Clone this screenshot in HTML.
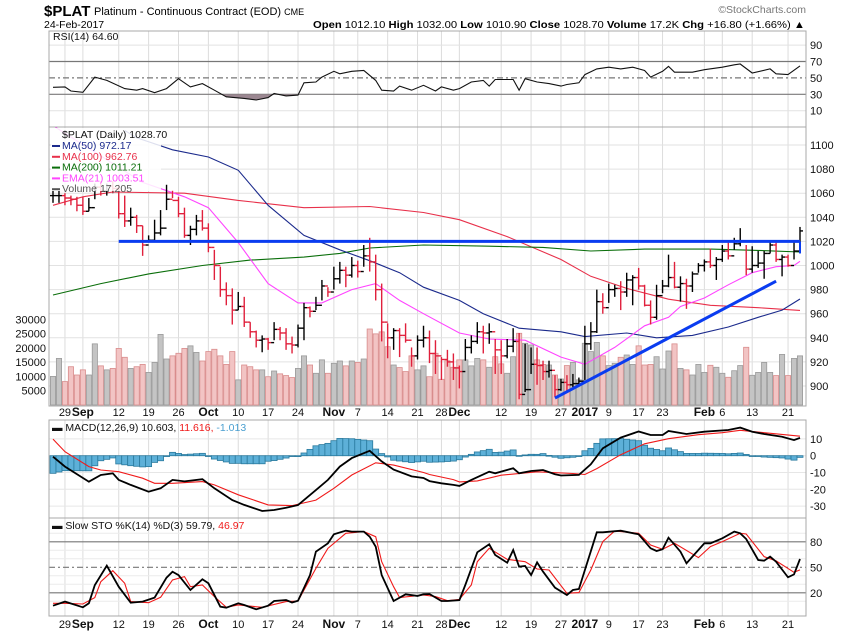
<!DOCTYPE html>
<html><head><meta charset="utf-8"><style>
html,body{margin:0;padding:0;background:#fff;}
svg{display:block;font-family:"Liberation Sans",sans-serif;}
</style></head><body>
<svg id="chart" width="850" height="633" viewBox="0 0 850 633" xmlns="http://www.w3.org/2000/svg">
<defs>
<clipPath id="cRsi"><rect x="49" y="31" width="757" height="96"/></clipPath>
<clipPath id="cPrice"><rect x="49" y="127" width="757" height="279"/></clipPath>
<clipPath id="cMacd"><rect x="49" y="420" width="757" height="98"/></clipPath>
<clipPath id="cSto"><rect x="49" y="518" width="757" height="98"/></clipPath>
<clipPath id="cRsiLow"><rect x="49" y="94.3" width="757" height="40"/></clipPath>
</defs>
<g>
<text x="44" y="16" font-size="15" font-weight="bold">$PLAT</text>
<text x="94" y="15" font-size="11">Platinum - Continuous Contract (EOD) <tspan font-size="9">CME</tspan></text>
<text x="44" y="28" font-size="10.5">24-Feb-2017</text>
<text x="806" y="13" font-size="10.5" fill="#777" text-anchor="end">©StockCharts.com</text>
<text x="313" y="28" font-size="10.5" textLength="492" lengthAdjust="spacingAndGlyphs"><tspan font-weight="bold">Open</tspan> 1012.10 <tspan font-weight="bold">High</tspan> 1032.00 <tspan font-weight="bold">Low</tspan> 1010.90 <tspan font-weight="bold">Close</tspan> 1028.70 <tspan font-weight="bold">Volume</tspan> 17.2K <tspan font-weight="bold">Chg</tspan> +16.80 (+1.66%) ▲</text>
</g>
<g id="grid"></g>
<g id="marks"></g>
<g id="frames"></g>
<g id="labels"></g>
</svg>
<script>
// ---------- data ----------
const highs=[1062,1062,1060,1058,1057,1057,1056,1068,1070,1068,1070,1067,1058,1048,1042,1033,1025,1038,1046,1067,1062,1057,1048,1033,1042,1046,1035,1013,999,986,981,978,974,953,946,942,940,953,949,948,941,951,969,966,974,988,982,999,1003,999,1007,1004,1017,1023,1009,985,952,948,948,952,932,942,950,946,938,924,930,927,917,939,942,953,950,952,939,938,939,948,944,935,932,932,921,921,909,906,909,910,907,950,953,980,977,985,984,987,994,992,998,984,971,984,988,1009,1003,991,989,995,1002,1005,1014,1007,1017,1019,1023,1031,1017,1016,1012,1012,1020,1019,1009,1009,1020,1032];
const lows=[1052,1052,1050,1050,1045,1042,1045,1055,1058,1058,1060,1039,1032,1033,1027,1008,1019,1021,1025,1046,1056,1040,1023,1017,1025,1029,1011,988,974,967,951,963,949,940,932,928,930,938,938,930,927,932,938,957,963,971,974,980,985,982,990,990,999,995,971,937,923,930,924,936,916,922,932,919,910,905,916,905,898,921,927,935,927,935,910,910,923,928,889,895,910,901,905,907,891,896,895,899,901,905,930,944,960,969,974,963,974,967,980,966,951,955,977,982,981,970,964,978,994,995,998,988,1003,1005,1013,1016,992,994,998,989,1010,1003,991,999,1005,1010.9];
const closes=[1058,1058,1056,1055,1050,1045,1048,1065,1062,1066,1064,1043,1037,1040,1033,1017,1021,1027,1031,1055,1054,1043,1025,1030,1037,1031,1015,1000,980,975,963,966,953,945,938,939,936,947,944,935,934,948,965,962,967,983,978,989,996,992,1000,995,1008,1003,980,953,940,946,942,938,925,938,940,927,925,922,920,915,912,932,937,945,944,945,930,925,933,937,893,897,918,917,912,913,897,903,901,902,904,935,945,970,965,980,981,978,988,990,983,967,957,975,983,990,982,985,983,993,1000,1003,1000,1005,1012,1008,1018,1020,997,1000,1002,1010,1017,1005,1007,1000,1012,1028.7];
const volumes=[10,16.3,8.2,13.4,10.5,12.3,10.5,21.4,13.7,12.3,12.8,19.8,16.7,12.8,13.4,14.2,11.4,14.9,24.7,16.1,17.2,18.1,19.8,20.7,18.4,15.4,18.7,19.5,17.2,14.2,18.7,8.8,14,13.4,12.3,12.3,9.9,11.9,10.9,10.3,9.6,12.8,17.2,14,11.1,15.8,11.1,14.6,15.4,13.7,15.4,14.9,16.1,26.6,24.9,25.6,20.4,14,13.1,11.7,17.2,12.3,13.7,9.9,18.1,9,15.5,13.2,15.8,15.8,13.7,16.3,15.8,13.2,16.9,14.4,11.1,16.9,25.1,21.6,21,15.8,14.2,14,10.5,9.1,13.8,14.9,8.8,21.6,18.7,21.9,17.2,13.8,14.6,16.7,17.5,14.2,20.7,14,14.2,16.9,12.6,18.9,21.4,12.8,12.3,10.5,14.2,11.4,13.9,13.2,11.1,9.7,12,13.8,20.2,10.4,11.4,14.9,11.4,10.3,17.7,10.3,16.3,17.2];
const ma50Idx=[12,14,20,26,31,36,42,48,53,58,62,68,72,78,85,89,96,101,107,113,118,122,125];
const ma50Val=[1112,1106,1096,1090,1079,1050,1025,1013,1004,994,982,971,960,948,945,941,944,940,942,949,957,963,972.17];
const ma100Idx=[0,5,10,22,31,42,53,62,68,76,85,90,96,103,110,118,125];
const ma100Val=[1050,1057,1061,1060,1054,1048,1049,1044,1038,1024,1005,991,981,972,967,965,962.76];
const ma200Idx=[0,8,16,25,33,42,48,53,62,73,82,90,99,110,118,125];
const ma200Val=[975.5,985,993,1000,1004.5,1007,1010,1014.5,1017,1016,1015,1012,1013.6,1013.6,1012.5,1011.21];
const emaIdx=[0,15,22,26,31,36,41,45,50,54,58,62,68,73,79,85,89,94,99,103,105,109,113,117,121,124,125];
const emaVal=[1116,1069,1057,1048,1019,985,969,969,980,985,971,960,944,939,938,924,918,932,950,957,966,973,984,994,999,1000,1003.51];
const rsiIdx=[0,2,3,5,7,9,12,14,15,17,19,21,23,25,27,29,32,34,36,37,39,41,42,44,45,47,48,50,52,54,55,57,58,60,62,64,65,67,68,70,72,73,74,77,78,79,81,83,85,86,88,89,91,93,95,97,99,100,102,103,104,107,109,112,114,115,117,120,121,123,125];
const rsiVal=[38.5,39,34,32.4,51,47,37,35,37,32,37,49,39,43,35,27,25,23,26,31,28,29,44,45,51,58,55,58,59,47,35,34,40,35,41,34,39,35,37,45,47,40,48,48,35,49,45,43,40,42,44,54,61,63,61,63,59,51,58,64,57,57,60,63,66,67,56,61,55,54,64.6];
const macdIdx=[0,2,6,8,10,11,13,16,18,20,22,25,27,30,32,35,37,39,41,44,46,48,50,53,55,57,60,62,63,65,67,68,70,73,74,77,78,80,82,84,85,88,90,92,95,98,100,102,103,106,109,113,115,117,119,122,124,125];
const macdVal=[-0.6,-6.5,-15.5,-11.5,-10.5,-14.4,-17.4,-21.4,-19.4,-14.4,-15.3,-14,-19.4,-26.4,-29.3,-32.9,-32.3,-31,-29.4,-20.5,-14.4,-6.5,-1.4,2.9,-3.4,-8.3,-12.3,-13.3,-15.1,-16.4,-17.4,-18,-14.4,-9.5,-10.5,-7.5,-10.5,-9.1,-8.5,-11,-11.8,-11.4,-5.1,4.4,10.8,14.4,12.3,12.3,14.7,12.9,14.3,15.3,16.7,14.3,12.9,11.3,9.3,10.6];
const sigIdx=[0,2,6,8,11,15,17,20,25,27,31,36,40,44,47,50,54,57,62,63,67,68,71,75,81,87,89,91,95,99,103,108,112,115,119,125];
const sigVal=[9.9,2.4,-6.5,-8.5,-9.5,-13.4,-16.4,-16.4,-15.4,-17.4,-23.3,-29.3,-29.7,-26.4,-19.4,-11.5,-4.2,-5.6,-10,-11.2,-14.2,-15.6,-15,-11.6,-9.6,-10.6,-11.2,-7.7,0.6,7.1,10.1,12.5,13.7,15.1,13.7,11.6];
const kIdx=[0,2,5,6,7,9,11,13,15,17,19,20,21,23,25,26,28,29,31,32,34,36,37,39,40,41,43,44,46,47,49,50,52,53,54,55,57,59,61,62,63,65,66,68,69,71,73,74,76,77,78,79,80,81,82,84,86,87,88,91,92,95,98,100,101,102,103,105,106,107,109,110,112,114,115,116,118,119,120,121,123,124,125];
const kVal=[4.8,9.6,2.9,7.6,29,51.9,27.2,8.4,9.6,14.3,37.8,44.8,40.8,23.3,35.9,31.2,3.6,2.5,7.6,5.6,0.6,4.8,10.3,11.4,8.6,10.6,40.8,68.4,78.2,88.8,93.1,92,92,86,74.3,40.8,10.3,18.2,16.3,18.2,18.6,10.3,10.3,11.4,29.2,67.6,77,64.5,55.4,70.3,50.7,51.5,40.8,55.8,44.9,26,17.4,23.3,24.5,91.2,91.2,93.1,88.8,72.4,69.2,71.2,84.8,68.4,54.7,62.6,78.2,78.2,84.1,92,90,83.3,58.6,57.8,62.6,56.6,38.2,41.7,59.79];
const dIdx=[0,2,5,7,8,10,12,13,16,18,20,22,23,25,27,29,31,35,39,41,44,46,49,52,54,55,57,58,62,64,66,68,70,71,73,76,79,81,83,86,88,90,92,94,98,100,102,104,108,110,112,115,116,119,121,124,125];
const dVal=[7.6,7.6,6.8,14.3,33.1,46,31.2,9.6,8.4,14.7,35.1,39,27.2,29.2,15.5,2.9,5.6,2.9,9.6,10.3,48.7,72.4,90,92,86,56.6,27.2,14.3,17.4,15.5,10.7,12.2,29.2,56.6,72.4,59.4,56.6,48,46.8,19.4,20.2,46.8,80.2,92.7,90,76.2,71.2,78.2,61.4,74.3,80.2,90,89.2,62.6,57.5,44.1,46.97];
const tickIdx=[2,5,11,16,21,26,31,36,41,47,51,56,61,65,68,75,80,85,89,93,98,102,109,112,117,123];
const tickLabels=["29","Sep","12","19","26","Oct","10","17","24","Nov","7","14","21","28","Dec","12","19","27","2017","9","17","23","Feb","6","13","21"];
const tickBold=["Sep","Oct","Nov","Dec","2017","Feb"];
const priceTicks=[900,920,940,960,980,1000,1020,1040,1060,1080,1100];
const volTicks=[5000,10000,15000,20000,25000,30000];
const rsiTicks=[10,30,50,70,90];
const macdTicks=[-30,-20,-10,0,10];
const stoTicks=[20,50,80];
const resistance={price:1020,from:11,to:125};
const trendLine={i0:84,p0:890,i1:121,p1:987};

// ---------- axes ----------
const L=49,R=806;
const xOf=i=>53+i*5.976;
const yP=p=>386-(p-900)*1.205;
const yV=v=>405-v*2.857;           // v in thousands
const yR=r=>61.5+(70-r)*0.82;
const yM=m=>455.7-m*1.68;
const yS=s=>567.3-(s-50)*0.85;

const NS="http://www.w3.org/2000/svg";
function mk(tag,attrs,parent){const e=document.createElementNS(NS,tag);for(const k in attrs)e.setAttribute(k,attrs[k]);parent.appendChild(e);return e;}
const grid=document.getElementById('grid'),marks=document.getElementById('marks'),frames=document.getElementById('frames'),labels=document.getElementById('labels');
const panels=[[31,127],[127,406],[420,518],[518,616]];

// vertical gridlines
tickIdx.forEach((t,k)=>{panels.forEach(p=>{const l=mk('line',{x1:xOf(t),x2:xOf(t),y1:p[0],y2:p[1],stroke:'#dcdcdc','stroke-width':1},grid);

});});
// horizontal grid
priceTicks.forEach(p=>{const l=mk('line',{x1:L,x2:R,y1:yP(p),y2:yP(p),stroke:'#e2e2e2'},grid);

});
[10,90].forEach(r=>{const l=mk('line',{x1:L,x2:R,y1:yR(r),y2:yR(r),stroke:'#e2e2e2'},grid);

});
macdTicks.forEach(m=>{const l=mk('line',{x1:L,x2:R,y1:yM(m),y2:yM(m),stroke:'#e6e6e6'},grid);

});
[10,30,40,60,70,90].forEach(s=>{const l=mk('line',{x1:L,x2:R,y1:yS(s),y2:yS(s),stroke:'#ececec'},grid);

});
// reference levels
[[yR(70),''],[yR(30),''],[yR(50),'6,3,2,3'],[yS(80),''],[yS(20),''],[yS(50),'6,3,2,3']].forEach(a=>{const l=mk('line',{x1:L,x2:R,y1:a[0],y2:a[0],stroke:'#777','stroke-width':1.2,'stroke-dasharray':a[1]},grid);

});

function pathD(idx,val,yf){return idx.map((i,k)=>(k?'L':'M')+xOf(i).toFixed(1)+','+yf(val[k]).toFixed(1)).join('');}
function interp(idx,val,i){if(i<=idx[0])return val[0];for(let k=1;k<idx.length;k++){if(i<=idx[k]){const t=(i-idx[k-1])/(idx[k]-idx[k-1]);return val[k-1]+t*(val[k]-val[k-1]);}}return val[val.length-1];}

// ---------- RSI ----------
const gR=mk('g',{'clip-path':'url(#cRsi)'},marks);


const rsiFill=mk('path',{d:pathD(rsiIdx,rsiVal,yR)+'L'+xOf(rsiIdx[rsiIdx.length-1])+','+yR(30)+'L'+xOf(rsiIdx[0])+','+yR(30)+'Z',fill:'#9b8791','clip-path':'url(#cRsiLow)'},gR);


const rsiLine=mk('path',{d:pathD(rsiIdx,rsiVal,yR),fill:'none',stroke:'#111','stroke-width':1.1},gR);



// ---------- price + volume ----------
const gP=mk('g',{'clip-path':'url(#cPrice)'},marks);


closes.forEach((c,i)=>{const up=i===0||c>=closes[i-1];const x=xOf(i);
const b=mk('rect',{x:x-2.6,y:yV(volumes[i]),width:5.2,height:405-yV(volumes[i]),fill:up?'#c4c4c4':'#f2c4c4',stroke:up?'#9a9a9a':'#d98c8c','stroke-width':0.8},gP);

});
[[ma100Idx,ma100Val,'#e8304a'],[ma200Idx,ma200Val,'#0a6e0a'],[ma50Idx,ma50Val,'#1b2a8c'],[emaIdx,emaVal,'#ff44ff']].forEach((s,k)=>{const p=mk('path',{d:pathD(s[0],s[1],yP),fill:'none',stroke:s[2],'stroke-width':1.1},gP);

});
closes.forEach((c,i)=>{const up=i===0||c>=closes[i-1];const o=i===0?c:closes[i-1];const x=xOf(i);const col=up?'#000':'#e0203c';
const g=mk('g',{stroke:col,'stroke-width':1.4},gP);


mk('line',{x1:x,x2:x,y1:yP(highs[i]),y2:yP(lows[i])},g);
mk('line',{x1:x-3,x2:x,y1:yP(o),y2:yP(o)},g);
mk('line',{x1:x,x2:x+3,y1:yP(c),y2:yP(c)},g);});
const res=mk('line',{x1:xOf(resistance.from),x2:xOf(resistance.to),y1:yP(resistance.price),y2:yP(resistance.price),stroke:'#0a3cf0','stroke-width':3},gP);


const resV=mk('line',{x1:xOf(resistance.to),x2:xOf(resistance.to),y1:yP(resistance.price),y2:yP(1010),stroke:'#0a3cf0','stroke-width':2},gP);


const tr=mk('line',{x1:xOf(trendLine.i0),x2:xOf(trendLine.i1),y1:yP(trendLine.p0),y2:yP(trendLine.p1),stroke:'#0a3cf0','stroke-width':3},gP);



// ---------- MACD ----------
const gM=mk('g',{'clip-path':'url(#cMacd)'},marks);


closes.forEach((c,i)=>{const h=interp(macdIdx,macdVal,i)-interp(sigIdx,sigVal,i);const y0=yM(0),y1=yM(h);
const b=mk('rect',{x:xOf(i)-3,y:Math.min(y0,y1),width:6,height:Math.max(0.8,Math.abs(y1-y0)),fill:'#5db0d8',stroke:'#2a7a9e','stroke-width':0.8},gM);

});
const sigL=mk('path',{d:pathD(sigIdx,sigVal,yM),fill:'none',stroke:'#f01a1a','stroke-width':1.1},gM);


const macdL=mk('path',{d:pathD(macdIdx,macdVal,yM),fill:'none',stroke:'#000','stroke-width':1.8},gM);



// ---------- STO ----------
const gS=mk('g',{'clip-path':'url(#cSto)'},marks);


const dL=mk('path',{d:pathD(dIdx,dVal,yS),fill:'none',stroke:'#f01a1a','stroke-width':1.1},gS);


const kL=mk('path',{d:pathD(kIdx,kVal,yS),fill:'none',stroke:'#000','stroke-width':1.8},gS);



// ---------- frames ----------
panels.forEach(p=>{const r=mk('rect',{x:L,y:p[0],width:R-L,height:p[1]-p[0],fill:'none',stroke:'#a8a8a8','stroke-width':1},frames);

});

// ---------- labels ----------
function txt(x,y,s,attrs,name){const t=mk('text',Object.assign({x:x,y:y,'font-size':11,fill:'#111'},attrs||{}),labels);t.textContent=s;

return t;}
priceTicks.forEach(p=>txt(810,yP(p)+4,String(p),{},'price-tick-label'));
volTicks.forEach(v=>txt(46,yV(v/1000)+4,String(v),{'text-anchor':'end'},'volume-tick-label'));
rsiTicks.forEach(r=>txt(810,yR(r)+4,String(r),{},'rsi-tick-label'));
macdTicks.forEach(m=>txt(810,yM(m)+4,String(m),{},'macd-tick-label'));
stoTicks.forEach(s=>txt(810,yS(s)+4,String(s),{},'sto-tick-label'));
tickIdx.forEach((t,k)=>{const b=tickBold.indexOf(tickLabels[k])>=0;
[416,628].forEach(y=>txt(xOf(t),y,tickLabels[k],{'text-anchor':'middle','font-weight':b?'bold':'normal','font-size':b?12:11},'x-tick-label'));});
// legends
const lg=mk('rect',{x:51,y:128,width:110,height:63,fill:'#fff','fill-opacity':0.85},labels);


txt(53,40,'RSI(14) 64.60',{'font-size':10.5},'rsi-legend');
txt(62,138,'$PLAT (Daily) 1028.70',{'font-size':10.5},'price-legend');
const legs=[['MA(50) 972.17','#1b2a8c','ma50-legend'],['MA(100) 962.76','#e8304a','ma100-legend'],['MA(200) 1011.21','#0a6e0a','ma200-legend'],['EMA(21) 1003.51','#ff44ff','ema21-legend'],['Volume 17,205','#555','volume-legend']];
legs.forEach((l,k)=>{const y=149+k*10.8;const sw=mk('rect',{x:52,y:y-4,width:8,height:2,fill:l[1]},labels);


txt(62,y,l[0],{'font-size':10.5,fill:l[1]},l[2]);});
const ml=txt(52,431,'',{'font-size':10.5},'macd-legend');ml.innerHTML='<tspan>▬ MACD(12,26,9) 10.603, </tspan><tspan fill="#f01a1a">11.616, </tspan><tspan fill="#4a9fd0">-1.013</tspan>';
const sl=txt(52,529,'',{'font-size':10.5},'sto-legend');sl.innerHTML='<tspan>▬ Slow STO %K(14) %D(3) 59.79, </tspan><tspan fill="#f01a1a">46.97</tspan>';
</script>
</body></html>
